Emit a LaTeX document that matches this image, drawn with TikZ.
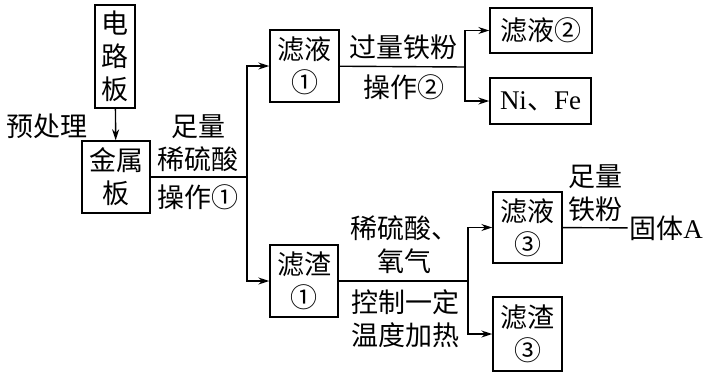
\documentclass[tikz,border=0pt]{standalone}
\usepackage{fontspec}
\setmainfont{Noto Sans CJK SC}
\newfontfamily\latin{Liberation Serif}
\usetikzlibrary{arrows.meta}

\begin{document}
\begin{tikzpicture}[x=1pt, y=-1pt,
  every node/.style={font=\fontsize{27}{33}\selectfont, inner sep=1pt},
  box/.style={draw, line width=1.4pt, align=center, inner sep=0pt},
  arr/.style={-{Stealth[length=11pt,width=7pt]}},
  lbl/.style={align=center}]
  \useasboundingbox (0,0) rectangle (710,378);
  \begin{scope}[line width=1.4pt]
    % boxes
    \node[box, minimum width=40pt, minimum height=103pt, text width=30pt] (dlb) at (115,56.5) {电\\路\\板};
    \node[box, minimum width=68pt, minimum height=72pt] (jsb) at (116,177) {金属\\板};
    \node[box, minimum width=69pt, minimum height=72pt] (ly1) at (304.5,66) {滤液\\①};
    \node[box, minimum width=68pt, minimum height=72pt] (lz1) at (304,281) {滤渣\\①};
    \node[box, minimum width=102pt, minimum height=45pt] (ly2) at (541,30.5) {滤液②};
    \node[box, minimum width=101pt, minimum height=46pt] (nife) at (540.5,101) {{\latin Ni}、{\latin Fe}};
    \node[box, minimum width=69pt, minimum height=71pt] (ly3) at (527.5,227.5) {滤液\\③};
    \node[box, minimum width=69pt, minimum height=74pt] (lz3) at (527.5,334) {滤渣\\③};
    \node (gta) at (666,228) {固体{\latin A}};
    % branch points
    \coordinate (j1) at (247,177);
    \coordinate (j2) at (465,67);
    \coordinate (j3) at (468,281);
    % connectors
    \draw[arr] (dlb) -- (jsb);
    \draw (jsb) -- (j1);
    \draw[arr] (j1) |- (ly1);
    \draw[arr] (j1) |- (lz1);
    \draw (ly1) -- (j2);
    \draw[arr] (j2) |- (ly2);
    \draw[arr] (j2) |- (nife);
    \draw (lz1) -- (j3);
    \draw[arr] (j3) |- (ly3);
    \draw[arr] (j3) |- (lz3);
    \draw (ly3) -- (gta);
    % labels
    \node (pre) at (47,126) {预处理};
    \node[lbl] (acid) at (198,143) {足量\\稀硫酸};
    \node (op1) at (198,197) {操作①};
    \node (fe1) at (403,47) {过量铁粉};
    \node (op2) at (404,87) {操作②};
    \node[lbl] (oxy) at (404,245) {稀硫酸、\\氧气};
    \node[lbl] (heat) at (405,319) {控制一定\\温度加热};
    \node[lbl] (fe2) at (595,193) {足量\\铁粉};
  \end{scope}
\end{tikzpicture}
\end{document}
